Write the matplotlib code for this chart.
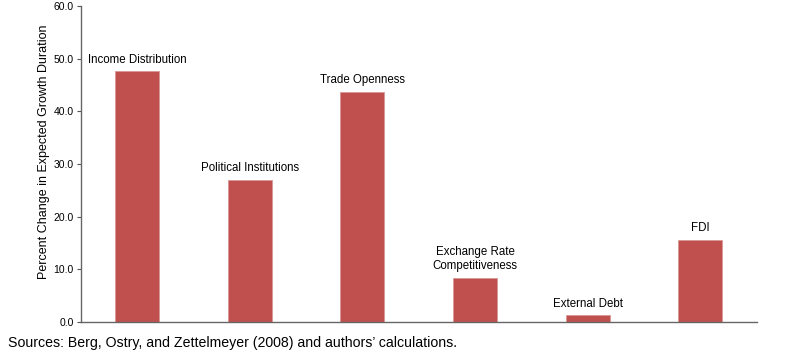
import matplotlib.pyplot as plt

plt.rcParams['font.family'] = ['Liberation Sans', 'DejaVu Sans']

categories = ['Income Distribution', 'Political Institutions', 'Trade Openness',
              'Exchange Rate\nCompetitiveness', 'External Debt', 'FDI']
values = [47.6, 27.0, 43.7, 8.4, 1.3, 15.6]
yticks = [0, 10, 20, 30, 40, 50, 60]

fig = plt.figure(figsize=(8, 3.53), dpi=100)
ax = fig.add_axes([0.101, 0.088, 0.845, 0.895])

xs = range(len(categories))
bars = ax.bar(xs, values, width=0.39, color='#C0504D', edgecolor='#D99795', linewidth=0.6)

for x, v, lab in zip(xs, values, categories):
    ax.annotate(lab, (x, v), xytext=(0, 4), textcoords='offset points',
                ha='center', va='bottom', fontsize=8.3, linespacing=1.25)

ax.set_xlim(-0.5, len(categories) - 0.5)
ax.set_ylim(0, 60)
ax.set_yticks(yticks)
ax.set_yticklabels([f'{t:.1f}' for t in yticks], fontsize=7.5)
ax.set_xticks([])
ax.tick_params(axis='y', length=3, width=0.8, color='#555555', pad=2)
ax.set_ylabel('Percent Change in Expected Growth Duration', fontsize=9)
ax.yaxis.set_label_coords(-0.046, 0.54)

for s in ['top', 'right']:
    ax.spines[s].set_visible(False)
for s in ['left', 'bottom']:
    ax.spines[s].set_color('#666666')
    ax.spines[s].set_linewidth(1.0)

fig.text(0.01, 0.028, "Sources: Berg, Ostry, and Zettelmeyer (2008) and authors\u2019 calculations.",
         fontsize=10.2, ha='left', va='center')

fig.savefig('out.png', dpi=100)
